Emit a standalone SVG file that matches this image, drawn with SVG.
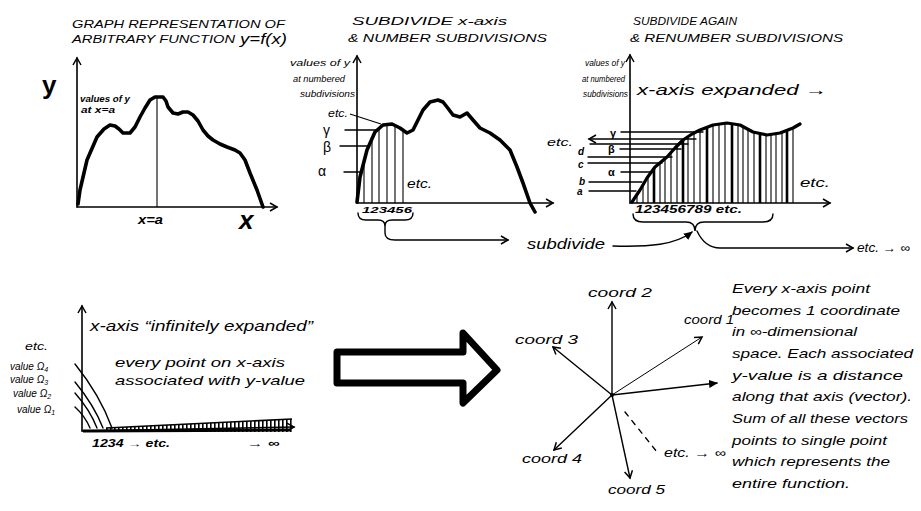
<svg xmlns="http://www.w3.org/2000/svg" width="921" height="511" viewBox="0 0 921 511">
<style>
text{font-family:"Liberation Sans",Arial,sans-serif;font-style:italic;fill:#000}
.t{font-size:11px}
.s{font-size:9.5px}
.m{font-size:13px}
.g{font-size:14px;font-style:normal}
.ax{fill:none;stroke:#000;stroke-width:1.6;stroke-linecap:round}
.cv{fill:none;stroke:#000;stroke-width:3.6;stroke-linejoin:round;stroke-linecap:round}
.th{stroke:#000;stroke-width:1.1}
.tk{stroke:#000;stroke-width:2.6}
.ln{fill:none;stroke:#000;stroke-width:1.4;stroke-linecap:round}
</style>
<defs>
<marker id="ah" markerWidth="10" markerHeight="10" refX="8" refY="5" orient="auto" markerUnits="userSpaceOnUse">
<path d="M1,1 L8,5 L1,9" fill="none" stroke="#000" stroke-width="1.5"/>
</marker>
<marker id="af" markerWidth="10" markerHeight="10" refX="8" refY="5" orient="auto" markerUnits="userSpaceOnUse">
<path d="M0,1 L9,5 L0,9 Z" fill="#000"/>
</marker>
<clipPath id="c2"><polygon points="357,203 357,202 360,177 367,150 375,132 383,125 392,124 400,128 407,133 413,130 423,110 430,102 438,100 447,107 453,115 460,117 467,113 473,120 480,128 490,133 500,140 510,150 517,167 523,183 530,203"/></clipPath>
<clipPath id="c3"><polygon points="632,203 632,202 640,190 655,167 667,157 683,140 700,130 713,125 727,123 740,125 753,132 767,135 780,133 793,128 800,125 800,203"/></clipPath>
<clipPath id="cb"><polygon points="106,428 292,419 292,432 106,432"/></clipPath>
</defs>

<g id="graph1">
<text class="t" x="72" y="28" textLength="213" lengthAdjust="spacingAndGlyphs">GRAPH REPRESENTATION OF</text>
<text class="t" x="72" y="43" textLength="163" lengthAdjust="spacingAndGlyphs">ARBITRARY FUNCTION</text>
<text x="240" y="44" style="font-size:15px" textLength="47" lengthAdjust="spacingAndGlyphs">y=f(x)</text>
<text x="42" y="94" style="font-size:26px;font-weight:bold;font-style:normal">y</text>
<text x="80" y="102" class="s" style="font-weight:bold" textLength="50" lengthAdjust="spacingAndGlyphs">values of y</text>
<text x="81" y="113" class="s" style="font-weight:bold" textLength="34" lengthAdjust="spacingAndGlyphs">at x=a</text>
<path class="ax" d="M77,207 L77,58" marker-end="url(#ah)"/>
<path class="ax" d="M77,207 L277,207" marker-end="url(#ah)"/>
<line class="th" x1="157" y1="97" x2="157" y2="207"/>
<path class="cv" d="M78,204 L80,190 L87,160 L97,137 L104,129 L110,125 L115,126 L119,129 L123,133 L130,133 L135,127 L140,117 L145,108 L150,100 L155,97 L163,97 L166,101 L168,107 L173,113 L178,114 L183,112 L188,112 L193,115 L198,121 L203,130 L208,136 L213,140 L220,144 L227,147 L235,150 L240,153 L245,160 L250,173 L257,190 L263,207"/>
<text x="138" y="224" style="font-size:12px;font-weight:bold" textLength="25" lengthAdjust="spacingAndGlyphs">x=a</text>
<text x="239" y="229" style="font-size:26px;font-weight:bold">x</text>
</g>

<g id="graph2">
<text class="t" x="352" y="25" textLength="155" lengthAdjust="spacingAndGlyphs">SUBDIVIDE x-axis</text>
<text class="t" x="348" y="42" textLength="199" lengthAdjust="spacingAndGlyphs">&amp; NUMBER SUBDIVISIONS</text>
<text x="290" y="66" class="s" textLength="60" lengthAdjust="spacingAndGlyphs">values of y</text>
<text x="293" y="82" class="s" textLength="52" lengthAdjust="spacingAndGlyphs">at numbered</text>
<text x="300" y="97" class="s" textLength="55" lengthAdjust="spacingAndGlyphs">subdivisions</text>
<path class="ax" d="M357,203 L357,56" marker-end="url(#ah)"/>
<path class="ax" d="M357,203 L553,203" marker-end="url(#ah)"/>
<g clip-path="url(#c2)">
<line class="th" x1="364" y1="203" x2="364" y2="90"/>
<line class="th" x1="372" y1="203" x2="372" y2="90"/>
<line class="th" x1="379" y1="203" x2="379" y2="90"/>
<line class="th" x1="387" y1="203" x2="387" y2="90"/>
<line class="th" x1="395" y1="203" x2="395" y2="90"/>
<line class="th" x1="403" y1="203" x2="403" y2="90"/>
</g>
<line class="ln" x1="345" y1="130" x2="377" y2="130"/>
<line class="ln" x1="340" y1="146" x2="367" y2="146"/>
<line class="ln" x1="344" y1="172" x2="360" y2="172"/>
<line class="th" x1="350" y1="114" x2="381" y2="124"/>
<path class="cv" d="M357,202 L360,177 L367,150 L375,132 L383,125 L392,124 L400,128 L407,133 L413,130 L418,120 L423,110 L430,102 L438,100 L443,102 L447,107 L453,115 L460,117 L467,113 L473,120 L480,128 L490,133 L500,140 L510,150 L517,167 L523,183 L530,203 L535,212"/>
<text x="323" y="135" class="g">γ</text>
<text x="323" y="152" class="g">β</text>
<text x="318" y="176" class="g">α</text>
<text x="328" y="117" style="font-size:10px" textLength="20" lengthAdjust="spacingAndGlyphs">etc.</text>
<text x="407" y="188" style="font-size:12px" textLength="25" lengthAdjust="spacingAndGlyphs">etc.</text>
<text x="362" y="213" style="font-size:9px;font-weight:bold" textLength="50" lengthAdjust="spacingAndGlyphs">123456</text>
<path class="ln" d="M358,213 Q358,220 366,220 L378,220 Q385,220 385,226 Q385,220 392,220 L405,220 Q413,220 413,213"/>
</g>

<g id="graph3">
<text class="t" x="633" y="25" textLength="104" lengthAdjust="spacingAndGlyphs">SUBDIVIDE AGAIN</text>
<text class="t" x="630" y="42" textLength="213" lengthAdjust="spacingAndGlyphs">&amp; RENUMBER SUBDIVISIONS</text>
<text x="585" y="66" class="s" textLength="40" lengthAdjust="spacingAndGlyphs">values of y</text>
<text x="582" y="82" class="s" textLength="43" lengthAdjust="spacingAndGlyphs">at numbered</text>
<text x="583" y="97" class="s" textLength="45" lengthAdjust="spacingAndGlyphs">subdivisions</text>
<text x="637" y="95" style="font-size:15px" textLength="190" lengthAdjust="spacingAndGlyphs">x-axis expanded →</text>
<path class="ax" d="M630,203 L630,55" marker-end="url(#ah)"/>
<path class="ax" d="M630,203 L830,203" marker-end="url(#ah)"/>
<g clip-path="url(#c3)">
<g class="th">
<line x1="637" y1="203" x2="637" y2="110"/><line x1="643" y1="203" x2="643" y2="110"/><line x1="648" y1="203" x2="648" y2="110"/>
<line x1="660" y1="203" x2="660" y2="110"/><line x1="665" y1="203" x2="665" y2="110"/><line x1="671" y1="203" x2="671" y2="110"/><line x1="677" y1="203" x2="677" y2="110"/>
<line x1="688" y1="203" x2="688" y2="110"/><line x1="694" y1="203" x2="694" y2="110"/><line x1="700" y1="203" x2="700" y2="110"/>
<line x1="713" y1="203" x2="713" y2="110"/><line x1="719" y1="203" x2="719" y2="110"/><line x1="725" y1="203" x2="725" y2="110"/>
<line x1="738" y1="203" x2="738" y2="110"/><line x1="743" y1="203" x2="743" y2="110"/><line x1="748" y1="203" x2="748" y2="110"/><line x1="754" y1="203" x2="754" y2="110"/>
<line x1="766" y1="203" x2="766" y2="110"/><line x1="771" y1="203" x2="771" y2="110"/><line x1="776" y1="203" x2="776" y2="110"/><line x1="782" y1="203" x2="782" y2="110"/>
<line x1="793" y1="203" x2="793" y2="110"/>
</g>
<g class="tk">
<line x1="654" y1="203" x2="654" y2="110"/><line x1="683" y1="203" x2="683" y2="110"/><line x1="707" y1="203" x2="707" y2="110"/>
<line x1="732" y1="203" x2="732" y2="110"/><line x1="760" y1="203" x2="760" y2="110"/><line x1="787" y1="203" x2="787" y2="110"/>
</g>
</g>
<line class="ln" x1="621" y1="132" x2="703" y2="132"/>
<line class="ln" x1="696" y1="139" x2="589" y2="139" marker-end="url(#ah)"/>
<line class="ln" x1="590" y1="144" x2="688" y2="144"/>
<line class="ln" x1="620" y1="149" x2="681" y2="149"/>
<line class="ln" x1="588" y1="157" x2="672" y2="157"/>
<line class="ln" x1="588" y1="163" x2="662" y2="163"/>
<line class="ln" x1="621" y1="172" x2="652" y2="172"/>
<line class="ln" x1="589" y1="182" x2="642" y2="182"/>
<line class="ln" x1="589" y1="191" x2="636" y2="191"/>
<path class="cv" style="stroke-width:3.2" d="M632,202 L640,190 L647,178 L655,167 L667,157 L675,148 L683,140 L692,134 L700,130 L713,125 L727,123 L740,125 L753,132 L767,135 L780,133 L793,128 L800,124"/>
<text x="610" y="137" style="font-size:11px;font-weight:bold;font-style:normal">γ</text>
<text x="547" y="146" style="font-size:11px" textLength="26" lengthAdjust="spacingAndGlyphs">etc.</text>
<text x="608" y="153" style="font-size:11px;font-weight:bold;font-style:normal">β</text>
<text x="578" y="155" style="font-size:10px;font-weight:bold">d</text>
<text x="578" y="168" style="font-size:10px;font-weight:bold">c</text>
<text x="608" y="176" style="font-size:11px;font-weight:bold;font-style:normal">α</text>
<text x="579" y="185" style="font-size:10px;font-weight:bold">b</text>
<text x="577" y="195" style="font-size:10px;font-weight:bold">a</text>
<text x="800" y="187" style="font-size:12px" textLength="30" lengthAdjust="spacingAndGlyphs">etc.</text>
<text x="635" y="213" style="font-size:10px;font-weight:bold" textLength="107" lengthAdjust="spacingAndGlyphs">123456789 etc.</text>
<path class="ln" d="M633,214 Q633,222 643,222 L686,222 Q695,222 695,231 Q695,222 704,222 L763,222 Q773,222 773,214"/>
</g>

<g id="connectors">
<path class="ln" d="M385,226 L385,233 Q385,240 395,240 L508,240" marker-end="url(#ah)"/>
<path class="ln" d="M613,246 C650,247 675,245 692,232" marker-end="url(#af)"/>
<path class="ln" d="M697,231 Q705,248 720,248 L853,248" marker-end="url(#ah)"/>
<path d="M337,352 L463,352 L463,333 L497,370 L463,403 L463,383 L337,383 Z" fill="#fff" stroke="#000" stroke-width="7" stroke-linejoin="round"/>
</g>

<g id="subdivide">
<text x="527" y="249" style="font-size:14px" textLength="78" lengthAdjust="spacingAndGlyphs">subdivide</text>
<text x="857" y="252" style="font-size:12px" textLength="53" lengthAdjust="spacingAndGlyphs">etc. → ∞</text>
</g>

<g id="graph4">
<path class="ax" d="M82,431 L82,306" marker-end="url(#ah)"/>
<path class="ax" d="M82,431 L294,427" marker-end="url(#ah)"/>
<line x1="83" y1="431" x2="290" y2="430" stroke="#000" stroke-width="3"/>
<line x1="106" y1="428" x2="292" y2="419" stroke="#000" stroke-width="1.6"/>
<g clip-path="url(#cb)"><line x1="106" y1="426" x2="292" y2="426" stroke="#000" stroke-width="16" stroke-dasharray="1.6 2.4"/></g>
<path class="ln" d="M75,364 Q100,395 112,428"/>
<path class="ln" d="M75,382 Q94,405 103,428"/>
<path class="ln" d="M75,393 Q90,410 97,428"/>
<path class="ln" d="M75,407 Q85,416 90,428"/>
<text x="25" y="350" style="font-size:10px" textLength="23" lengthAdjust="spacingAndGlyphs">etc.</text>
<text x="10" y="370" style="font-size:10px">value Ω<tspan dy="2" style="font-size:7px">4</tspan></text>
<text x="10" y="383" style="font-size:10px">value Ω<tspan dy="2" style="font-size:7px">3</tspan></text>
<text x="13" y="397" style="font-size:10px">value Ω<tspan dy="2" style="font-size:7px">2</tspan></text>
<text x="17" y="413" style="font-size:10px">value Ω<tspan dy="2" style="font-size:7px">1</tspan></text>
<text x="90" y="331" style="font-size:14px" textLength="223" lengthAdjust="spacingAndGlyphs">x-axis “infinitely expanded”</text>
<text x="115" y="367" class="m" textLength="170" lengthAdjust="spacingAndGlyphs">every point on x-axis</text>
<text x="115" y="385" class="m" textLength="190" lengthAdjust="spacingAndGlyphs">associated with y-value</text>
<text x="92" y="447" style="font-size:10px;font-weight:bold" textLength="78" lengthAdjust="spacingAndGlyphs">1234 → etc.</text>
<text x="247" y="447" style="font-size:11px;font-weight:bold" textLength="33" lengthAdjust="spacingAndGlyphs">→ ∞</text>
</g>

<g id="star">
<line class="ln" x1="612" y1="395" x2="612" y2="302" marker-end="url(#ah)"/>
<line class="ln" x1="612" y1="395" x2="702" y2="337" marker-end="url(#ah)" style="stroke-width:1"/>
<line class="ln" x1="612" y1="395" x2="717" y2="383" marker-end="url(#af)"/>
<line class="ln" x1="612" y1="395" x2="553" y2="347" marker-end="url(#ah)"/>
<line class="ln" x1="612" y1="395" x2="554" y2="450" marker-end="url(#ah)"/>
<line class="ln" x1="612" y1="395" x2="630" y2="478" marker-end="url(#ah)"/>
<line class="ln" x1="625" y1="412" x2="657" y2="452" stroke-dasharray="5 6"/>
<circle cx="612" cy="395" r="2" fill="#000"/>
<text x="588" y="297" class="m" textLength="64" lengthAdjust="spacingAndGlyphs">coord 2</text>
<text x="515" y="344" class="m" textLength="63" lengthAdjust="spacingAndGlyphs">coord 3</text>
<text x="684" y="324" class="m" textLength="50" lengthAdjust="spacingAndGlyphs">coord 1</text>
<text x="522" y="463" class="m" textLength="60" lengthAdjust="spacingAndGlyphs">coord 4</text>
<text x="608" y="494" class="m" textLength="57" lengthAdjust="spacingAndGlyphs">coord 5</text>
<text x="664" y="457" style="font-size:12px" textLength="62" lengthAdjust="spacingAndGlyphs">etc. → ∞</text>
</g>

<g id="note">
<text x="732" y="293" class="m" textLength="138" lengthAdjust="spacingAndGlyphs">Every x-axis point</text>
<text x="732" y="315" class="m" textLength="168" lengthAdjust="spacingAndGlyphs">becomes 1 coordinate</text>
<text x="732" y="336" class="m" textLength="125" lengthAdjust="spacingAndGlyphs">in ∞-dimensional</text>
<text x="732" y="358" class="m" textLength="181" lengthAdjust="spacingAndGlyphs">space. Each associated</text>
<text x="732" y="380" class="m" textLength="171" lengthAdjust="spacingAndGlyphs">y-value is a distance</text>
<text x="732" y="401" class="m" textLength="180" lengthAdjust="spacingAndGlyphs">along that axis (vector).</text>
<text x="732" y="423" class="m" textLength="176" lengthAdjust="spacingAndGlyphs">Sum of all these vectors</text>
<text x="732" y="445" class="m" textLength="155" lengthAdjust="spacingAndGlyphs">points to single point</text>
<text x="732" y="466" class="m" textLength="158" lengthAdjust="spacingAndGlyphs">which represents the</text>
<text x="732" y="488" class="m" textLength="118" lengthAdjust="spacingAndGlyphs">entire function.</text>
</g>
</svg>
